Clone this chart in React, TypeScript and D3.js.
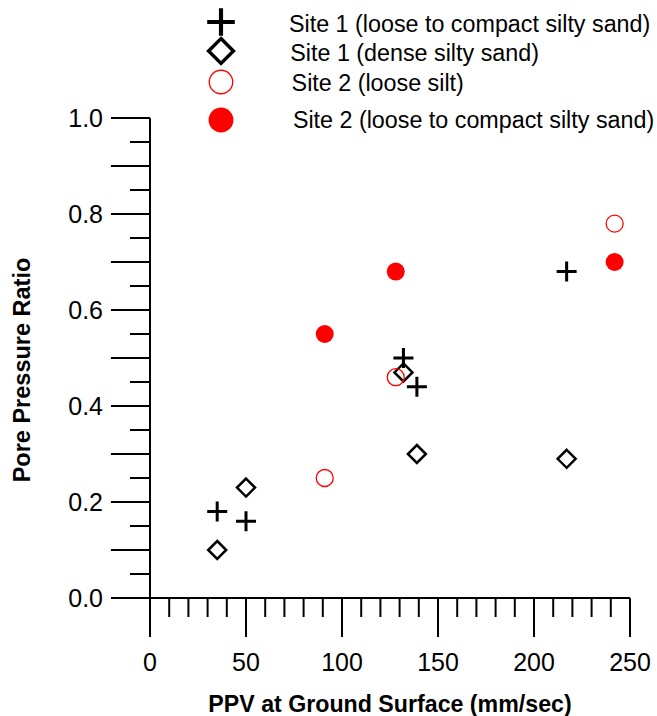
import React from 'react';
import * as d3 from 'd3';

// PPV (mm/sec) vs pore pressure ratio
const site1LooseX = [35, 50, 132, 139, 217];
const site1LooseY = [0.18, 0.16, 0.50, 0.44, 0.68];
const site1DenseX = [35, 50, 132, 139, 217];
const site1DenseY = [0.10, 0.23, 0.47, 0.30, 0.29];
const site2SiltX = [91, 128, 242];
const site2SiltY = [0.25, 0.46, 0.78];
const site2SandX = [91, 128, 242];
const site2SandY = [0.55, 0.68, 0.70];

const xLabels = [0, 50, 100, 150, 200, 250];
const yLabels = [0.0, 0.2, 0.4, 0.6, 0.8, 1.0];

const legendLabels = [
  'Site 1 (loose to compact silty sand)',
  'Site 1 (dense silty sand)',
  'Site 2 (loose silt)',
  'Site 2 (loose to compact silty sand)',
];

const width = 657;
const height = 716;
const font = '"Liberation Sans", Arial, sans-serif';

const x = d3.scaleLinear().domain([0, 250]).range([150, 630]);
const y = d3.scaleLinear().domain([0, 1]).range([598, 118]);

const plusPath = (cx: number, cy: number, s: number) =>
  `M${cx - s},${cy}H${cx + s}M${cx},${cy - s}V${cy + s}`;
const diamondPath = (cx: number, cy: number, s: number) =>
  `M${cx},${cy - s}L${cx + s},${cy}L${cx},${cy + s}L${cx - s},${cy}Z`;

function Marker({kind, cx, cy, k = 1}: {kind: number; cx: number; cy: number; k?: number}) {
  if (kind === 0) return <path d={plusPath(cx, cy, 10 * k)} stroke="#000" strokeWidth={3 * k} fill="none"/>;
  if (kind === 1) return <path d={diamondPath(cx, cy, 9 * k)} stroke="#000" strokeWidth={2.5 * k} fill="none"/>;
  if (kind === 2) return <circle cx={cx} cy={cy} r={8.5 * k} stroke="#ff0000" strokeWidth={1.3} fill="none"/>;
  return <circle cx={cx} cy={cy} r={9 * k} fill="#ff0000"/>;
}

export default function App() {
  const xMinor = d3.range(0, 251, 10);
  const yMinor = d3.range(0, 21).map(i => i * 0.05);

  const series = [
    site1LooseX.map((v, i) => [v, site1LooseY[i]]),
    site1DenseX.map((v, i) => [v, site1DenseY[i]]),
    site2SiltX.map((v, i) => [v, site2SiltY[i]]),
    site2SandX.map((v, i) => [v, site2SandY[i]]),
  ];

  // legend rows (marker centre y, text baseline y)
  const legendMarkY = [22, 51, 82, 120];
  const legendTextY = [32, 61, 91, 128];

  return (
    <svg width={width} height={height} style={{position: 'absolute', left: 0, top: 0}}
         fontFamily={font}>
      <rect width={width} height={height} fill="#fff"/>

      {/* y axis */}
      <line x1={150} x2={150} y1={y(1)} y2={637} stroke="#000" strokeWidth={2}/>
      {yMinor.map((v, i) => (
        <line key={'yt' + i} x1={i % 2 === 0 ? 111 : 130} x2={150} y1={y(v)} y2={y(v)}
              stroke="#000" strokeWidth={2}/>
      ))}
      {yLabels.map(v => (
        <text key={'yl' + v} x={103} y={y(v) + 9} fontSize={25} textAnchor="end">{v.toFixed(1)}</text>
      ))}

      {/* x axis */}
      <line x1={150} x2={x(250)} y1={598} y2={598} stroke="#000" strokeWidth={2}/>
      {xMinor.map(v => (
        <line key={'xt' + v} x1={x(v)} x2={x(v)} y1={598} y2={v % 50 === 0 ? 637 : 617}
              stroke="#000" strokeWidth={2}/>
      ))}
      {xLabels.map(v => (
        <text key={'xl' + v} x={x(v)} y={671} fontSize={25} textAnchor="middle">{v}</text>
      ))}

      <text x={390} y={712} fontSize={23.2} fontWeight="bold" textAnchor="middle">
        PPV at Ground Surface (mm/sec)
      </text>
      <text transform="translate(30,370) rotate(-90)" fontSize={23.5} fontWeight="bold" textAnchor="middle">
        Pore Pressure Ratio
      </text>

      {/* data */}
      {series.map((pts, k) => (
        <g key={'s' + k}>
          {pts.map((d, i) => <Marker key={i} kind={k} cx={x(d[0])} cy={y(d[1])}/>)}
        </g>
      ))}

      {/* legend */}
      {legendLabels.map((label, k) => (
        <g key={'lg' + k}>
          <Marker kind={k} cx={221} cy={legendMarkY[k]} k={1.38}/>
          <text x={289 + k * 1.3} y={legendTextY[k]} fontSize={23.3}>{label}</text>
        </g>
      ))}
    </svg>
  );
}
